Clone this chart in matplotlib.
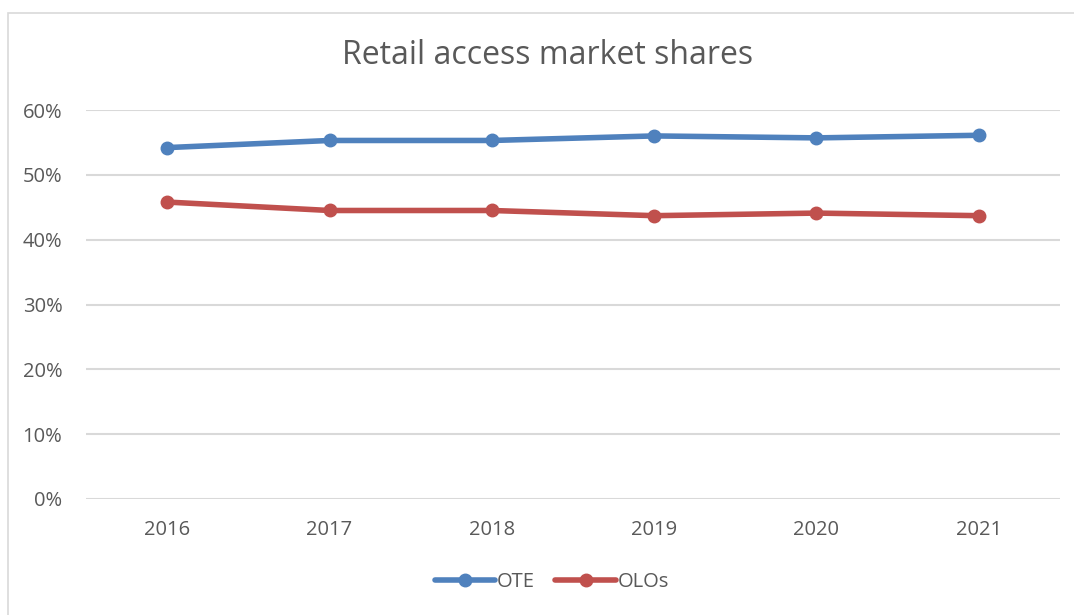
import matplotlib
matplotlib.use("Agg")
import matplotlib.pyplot as plt
from matplotlib.patches import Rectangle
from matplotlib.ticker import PercentFormatter

years = ["2016", "2017", "2018", "2019", "2020", "2021"]
ote = [54.2, 55.3, 55.3, 56.0, 55.7, 56.1]
olos = [45.8, 44.5, 44.5, 43.7, 44.1, 43.7]
series_names = ["OTE", "OLOs"]
colors = ["#4f81bd", "#c0504d"]
title = "Retail access market shares"
yticks = [0, 10, 20, 30, 40, 50, 60]

plt.rcParams['font.family'] = ['Open Sans', 'DejaVu Sans']
text_color = "#595959"

W, H = 1074, 615
fig = plt.figure(figsize=(W / 100, H / 100), dpi=100)
fig.patch.set_facecolor("white")

# chart border
fig.patches.append(Rectangle((8 / W, -0.1), 1.2, 1.1 - 13 / H, transform=fig.transFigure,
                             fill=False, edgecolor="#d9d9d9", linewidth=1.2))

left, right, top, bottom = 86, 1060, 110, 499
ax = fig.add_axes([left / W, 1 - bottom / H, (right - left) / W, (bottom - top) / H])

x = [i + 0.5 for i in range(len(years))]
for vals, name, c in zip([ote, olos], series_names, colors):
    ax.plot(x, vals, color=c, linewidth=4, marker="o", markersize=9,
            solid_capstyle="round", label=name)

ax.set_xlim(0, len(years))
ax.set_ylim(0, 60)
ax.set_xticks(x)
ax.set_xticklabels(years)
ax.set_yticks(yticks)
ax.yaxis.set_major_formatter(PercentFormatter(decimals=0))
ax.grid(axis="y", color="#d9d9d9", linewidth=1.5)
ax.set_axisbelow(True)
for s in ax.spines.values():
    s.set_visible(False)
ax.tick_params(axis="both", length=0, colors=text_color, labelsize=14.5)
ax.tick_params(axis="x", pad=15)
ax.tick_params(axis="y", pad=17)

fig.text(548 / W, 1 - 55 / H, title, ha="center", va="center",
         fontsize=23, color=text_color)

leg = fig.legend(loc="center", bbox_to_anchor=(552 / W, 1 - 582 / H), ncol=2,
                 frameon=False, fontsize=14.5, handlelength=3.0, handletextpad=0.1,
                 columnspacing=1.0, labelcolor=text_color)

fig.savefig("out.png", dpi=100, facecolor="white")
